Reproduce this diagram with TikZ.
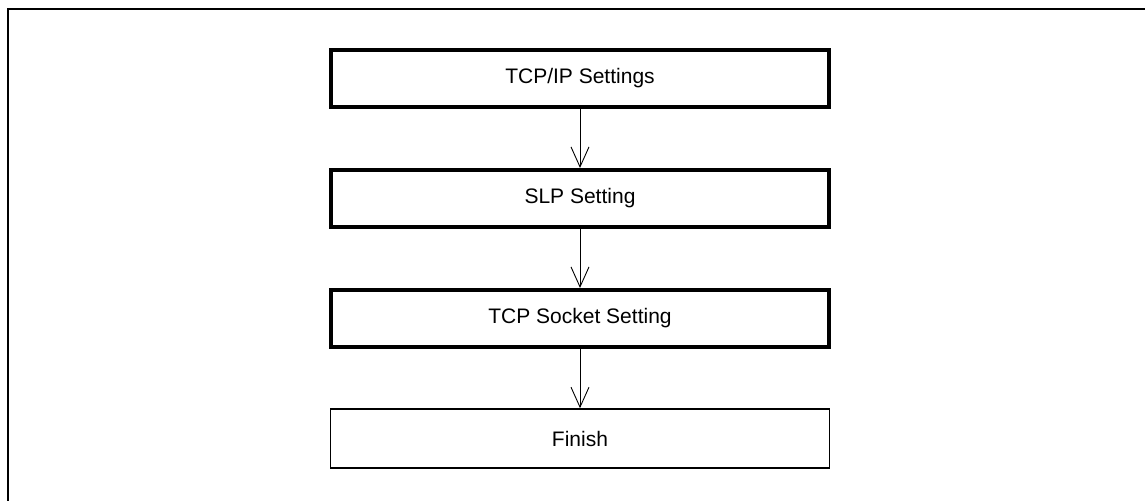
\documentclass[tikz,border=0pt]{standalone}
\usepackage{fontspec}
\setmainfont{Liberation Sans}
\usetikzlibrary{positioning}
\usetikzlibrary{arrows.meta}

\begin{document}
\begin{tikzpicture}[x=1pt, y=-1pt,
		stepbox/.style={draw, line width=4pt, minimum width=498pt, minimum height=57pt, inner sep=0pt, font=\fontsize{21}{24}\selectfont},
		endbox/.style={stepbox, line width=1.5pt, minimum width=499pt, minimum height=59pt},
		flow/.style={line width=0.9pt, -{Straight Barb[length=20pt, width=18pt, line width=0.9pt]}}]
				\useasboundingbox (0,0) rectangle (1145,501);
				\coordinate (frameR) at (1145,9);
				\coordinate (frameC) at (8,9);
				\coordinate (frameB) at (8,501);
				\draw[line width=2.5pt] (frameR) -- (frameC) -- (frameB);
				\node[stepbox] (tcpip)  at (580,78.5)  {TCP/IP Settings};
				\node[stepbox] (slp)    at (580,198.5) {SLP Setting};
				\node[stepbox] (socket) at (580,318.5) {TCP Socket Setting};
				\node[endbox]  (finish) at (580,438.5) {Finish};
				\draw[flow] (tcpip) -- (slp);
				\draw[flow] (slp) -- (socket);
				\draw[flow] (socket) -- (finish);
			\end{tikzpicture}
\end{document}
